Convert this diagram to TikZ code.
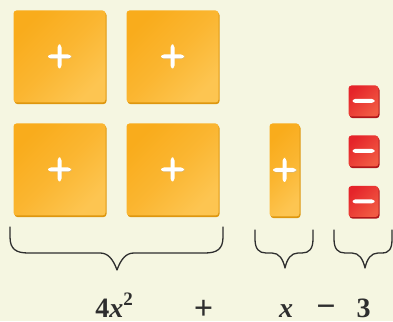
\documentclass[tikz,border=0pt]{standalone}
\usepackage{fontspec}
\setmainfont{Liberation Serif}
\usetikzlibrary{calc}
\definecolor{bg}{HTML}{F5F6E1}
\definecolor{orA}{HTML}{F9AC1C}
\definecolor{orB}{HTML}{FDC551}
\definecolor{orD}{HTML}{DE970F}
\definecolor{rdA}{HTML}{E5242A}
\definecolor{rdB}{HTML}{F15A43}
\definecolor{rdD}{HTML}{B0161A}
\definecolor{ink}{HTML}{2E2E2E}
\tikzset{
  tilebase/.style={rounded corners=3pt, inner sep=0pt, draw=none,
    top color=orA, bottom color=orB, middle color=orA!60!orB, shading angle=45,
    preaction={fill=orD, transform canvas={xshift=1pt,yshift=-1.6pt}}},
  sqtile/.style={tilebase, minimum width=92pt, minimum height=92pt},
  xtile/.style={tilebase, minimum width=30pt, minimum height=93pt},
  negtile/.style={rounded corners=3pt, inner sep=0pt, draw=none,
    minimum width=30pt, minimum height=31pt,
    top color=rdA, bottom color=rdB, shading angle=45,
    preaction={fill=rdD, transform canvas={xshift=1pt,yshift=-1.6pt}}},
  pluspic/.style={path picture={
    \fill[black!30,opacity=.5] ($(path picture bounding box.center)+(-11pt,-2.6pt)$) rectangle ++(23pt,4pt);
    \fill[white] ($(path picture bounding box.center)+(-11.5pt,-2pt)$) rectangle ++(23pt,4pt);
    \fill[white] ($(path picture bounding box.center)+(-2pt,-12pt)$) rectangle ++(4pt,24pt);}},
  minuspic/.style={path picture={
    \fill[white] ($(path picture bounding box.center)+(-11pt,-2pt)$) rectangle ++(22pt,4.2pt);}},
  brace/.style={draw=ink, line width=1.3pt, line join=round, line cap=round},
  lab/.style={font=\fontsize{28}{32}\selectfont\bfseries, text=ink, anchor=base,
    inner sep=0pt, text depth=0pt},
  op/.style={lab, font=\fontsize{34}{36}\selectfont\bfseries}
}
\begin{document}
\begin{tikzpicture}[x=1pt,y=1pt]
\fill[bg] (0,0) rectangle (393,321);
\useasboundingbox (0,0) rectangle (393,321);
% x^2 tiles
\node[sqtile, pluspic] (t1) at (59.5,264.5) {};
\node[sqtile, pluspic] (t2) at (172.5,264.5) {};
\node[sqtile, pluspic] (t3) at (59.5,151.5) {};
\node[sqtile, pluspic] (t4) at (172.5,151.5) {};
% x tile
\node[xtile, pluspic] (xt) at (284.5,151) {};
% unit tiles
\node[negtile, minuspic] (n1) at (363.5,220) {};
\node[negtile, minuspic] (n2) at (363.5,170) {};
\node[negtile, minuspic] (n3) at (363.5,119.5) {};
% braces
\draw[brace] (10,94) -- (10,84) .. controls (10,72) and (16,68) .. (28,68) -- (100,68)
  .. controls (108,68) and (113,62) .. (117,51)
  .. controls (121,62) and (126,68) .. (134,68) -- (205,68)
  .. controls (217,68) and (223,72) .. (223,84) -- (223,94);
\draw[brace] (255,91) -- (255,82) .. controls (255,72) and (259,68) .. (266,68) -- (272,68)
  .. controls (279,68) and (283,62) .. (285,53)
  .. controls (287,62) and (291,68) .. (298,68) -- (302,68)
  .. controls (309,68) and (313,72) .. (313,82) -- (313,91);
\draw[brace] (334,91) -- (334,82) .. controls (334,72) and (338,68) .. (345,68) -- (352,68)
  .. controls (359,68) and (363,62) .. (365,53)
  .. controls (367,62) and (371,68) .. (378,68) -- (382,68)
  .. controls (389,68) and (392,72) .. (392,82) -- (392,91);
% labels
\node[lab] (l1) at (114,3.5) {4\textit{x}\raisebox{0.42em}{\fontsize{19}{20}\selectfont 2}};
\node[op] (l2) at (203.5,1.5) {+};
\node[lab] (l3) at (286,3.5) {\textit{x}};
\node[op] (l4) at (326,3.5) {−};
\node[lab] (l5) at (363.5,3.5) {3};
\end{tikzpicture}
\end{document}
